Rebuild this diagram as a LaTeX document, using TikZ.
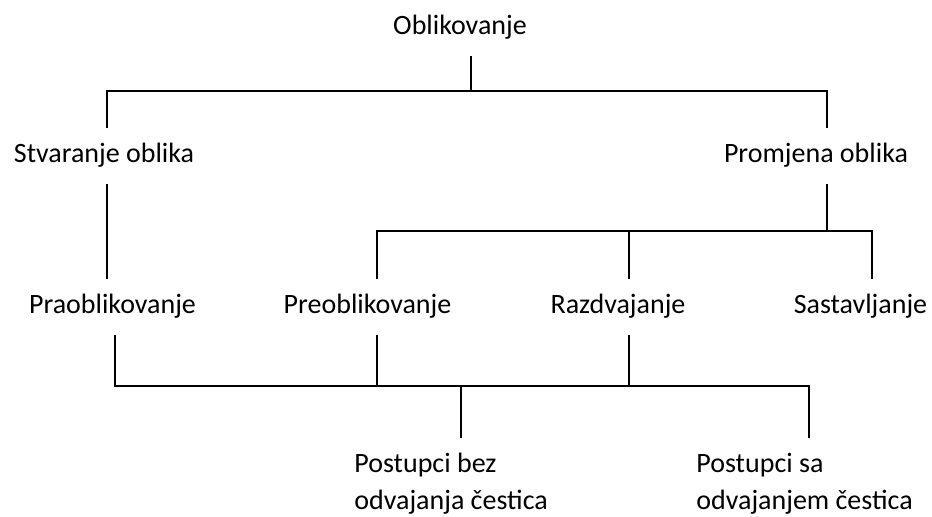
\documentclass[tikz,border=0pt]{standalone}
\usepackage{fontspec}
\setmainfont{Carlito}
\begin{document}
\begin{tikzpicture}[x=0.5pt, y=-0.5pt]
			\tikzset{obnode/.style={inner xsep=0pt, inner ysep=7pt,
						text height=10.5pt, text depth=3.5pt, anchor=base,
						font=\fontsize{14}{18.5}\selectfont}}
			\tikzset{obtwo/.style={obnode, text height=29pt,
						anchor=base west, align=left}}
			\tikzset{obline/.style={line width=1pt}}

			\useasboundingbox (0,0) rectangle (932,517);

			\node[obnode] (obl) at (460,35) {Oblikovanje};
			\node[obnode] (stv) at (104,163) {Stvaranje oblika};
			\node[obnode] (pro) at (816,163) {Promjena oblika};
			\node[obnode] (pra) at (112.5,314) {Praoblikovanje};
			\node[obnode] (pre) at (367.5,314) {Preoblikovanje};
			\node[obnode] (raz) at (618,314) {Razdvajanje};
			\node[obnode] (sas) at (860.5,314) {Sastavljanje};
			\node[obtwo] (bez) at (354,510) {Postupci bez\\odvajanja čestica};
			\node[obtwo] (sa) at (696,510) {Postupci sa\\odvajanjem čestica};

			\coordinate (t0) at (471,91);
			\coordinate (tl) at (107,91);
			\coordinate (tr) at (827,91);
			\coordinate (ml) at (377,231);
			\coordinate (mm) at (629,231);
			\coordinate (mr) at (872,231);
			\coordinate (bl) at (115,386);
			\coordinate (bm) at (461,386);
			\coordinate (br) at (809,386);

			\draw[obline] (obl.south -| t0) -- (t0);
			\draw[obline] (stv.north -| tl) -- (tl) -- (tr) -- (pro.north -| tr);
			\draw[obline] (stv.south -| tl) -- (pra.north -| tl);
			\draw[obline] (pro.south -| tr) -- (tr |- ml);
			\draw[obline] (pre.north -| ml) -- (ml) -- (mr) -- (sas.north -| mr);
			\draw[obline] (raz.north -| mm) -- (mm);
			\draw[obline] (pra.south -| bl) -- (bl) -- (br) -- (sa.north -| br);
			\draw[obline] (pre.south -| ml) -- (ml |- bl);
			\draw[obline] (raz.south -| mm) -- (mm |- bl);
			\draw[obline] (bez.north -| bm) -- (bm);
		\end{tikzpicture}
\end{document}
